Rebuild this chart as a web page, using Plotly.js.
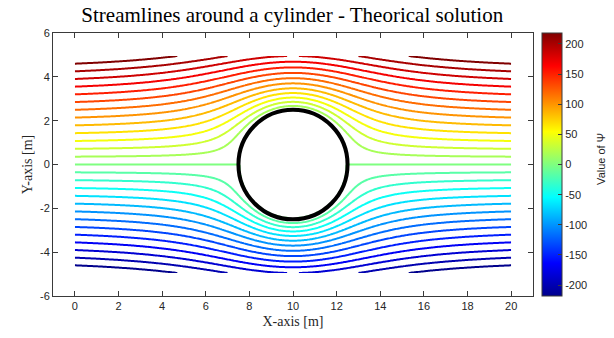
<!DOCTYPE html>
<html><head><meta charset="utf-8">
<script src="https://cdn.plot.ly/plotly-3.0.1.min.js"></script>
<style>html,body{margin:0;padding:0;background:#fff}#chart{width:614px;height:338px}</style>
</head><body><div id="chart"></div>
<script>
// Values
const cylinderCenter = [10, 0];
const cylinderRadius = 2.5;
const freeStreamVelocity = 46.4;     // chosen so that max(psi) on the grid ~ 218 (colorbar limit)
const xDomain = [0, 20];
const yDomain = [-4.95, 4.95];
const xCount = 401;
const yCount = 166;
const levelCount = 27;               // 13 above, zero line, 13 below
const levelStep = 15.57;
const colorRange = [-218, 218];
const xTickVals = [0, 2, 4, 6, 8, 10, 12, 14, 16, 18, 20];
const yTickVals = [-6, -4, -2, 0, 2, 4, 6];
const cbTickVals = [-200, -150, -100, -50, 0, 50, 100, 150, 200];
const titleText = 'Streamlines around a cylinder - Theorical solution';
const xTitle = 'X-axis [m]';
const yTitle = 'Y-axis [m]';
const cbTitle = 'Value of \u03A8';

// Theoretical stream function of potential flow past a cylinder (the chart's own definition)
const xs = [], ys = [];
for (let i = 0; i < xCount; i++) xs.push(xDomain[0] + i * (xDomain[1] - xDomain[0]) / (xCount - 1));
for (let j = 0; j < yCount; j++) ys.push(yDomain[0] + j * (yDomain[1] - yDomain[0]) / (yCount - 1));
const psi = ys.map(y => xs.map(x => {
  const dx = x - cylinderCenter[0], dy = y - cylinderCenter[1];
  const r2 = dx * dx + dy * dy;
  const R2 = cylinderRadius * cylinderRadius;
  return r2 < R2 ? 0 : freeStreamVelocity * dy * (1 - R2 / r2);
}));

const jet = [[0, 'rgb(0,0,140)'], [0.125, 'rgb(0,0,255)'], [0.375, 'rgb(0,255,255)'],
             [0.625, 'rgb(255,255,0)'], [0.875, 'rgb(255,0,0)'], [1, 'rgb(128,0,0)']];
const half = (levelCount - 1) / 2;
const axisColor = '#3a3a3a';
const tickFont = {family: 'Liberation Sans, Arial, sans-serif', size: 11, color: '#262626'};
const serif = 'Liberation Serif, Times New Roman, serif';

const traces = [
  {
    type: 'contour', x: xs, y: ys, z: psi,
    zmin: colorRange[0], zmax: colorRange[1], zauto: false,
    autocontour: false,
    contours: {start: -half * levelStep, end: half * levelStep + 1e-6, size: levelStep, coloring: 'lines'},
    line: {width: 2, smoothing: 0},
    colorscale: jet, showscale: false, hoverinfo: 'skip'
  },
  {
    type: 'scatter', x: [null], y: [null], mode: 'markers', hoverinfo: 'skip', showlegend: false,
    marker: {color: [0], cmin: colorRange[0], cmax: colorRange[1], colorscale: jet, showscale: true,
      colorbar: {x: 1.019, xanchor: 'left', xpad: 0, ypad: 0, y: 0.5, yanchor: 'middle', len: 1, lenmode: 'fraction',
        thickness: 20, thicknessmode: 'pixels', outlinewidth: 1, outlinecolor: axisColor,
        ticks: 'inside', ticklen: 4, tickcolor: axisColor, tickvals: cbTickVals,
        ticktext: cbTickVals.map(String), tickfont: tickFont}}
  }
];

const layout = {
  width: 614, height: 338,
  margin: {l: 53, r: 81, t: 33, b: 42},
  paper_bgcolor: '#fff', plot_bgcolor: '#fff',
  showlegend: false,
  title: {text: titleText, font: {family: serif, size: 21, color: '#000'}, x: 0.476, xanchor: 'center', y: 0.977, yanchor: 'top', yref: 'container'},
  xaxis: {range: [-1, 21], tickvals: xTickVals, ticktext: xTickVals.map(String), ticks: 'inside', ticklen: 5, tickcolor: axisColor,
    showline: true, linecolor: axisColor, linewidth: 1, mirror: 'ticks', showgrid: false, zeroline: false,
    tickfont: tickFont, title: {text: xTitle, font: {family: serif, size: 14, color: '#262626'}, standoff: 4}},
  yaxis: {range: [-6, 6], tickvals: yTickVals, ticktext: yTickVals.map(String), ticks: 'inside', ticklen: 5, tickcolor: axisColor,
    showline: true, linecolor: axisColor, linewidth: 1, mirror: 'ticks', showgrid: false, zeroline: false,
    tickfont: tickFont, title: {text: yTitle, font: {family: serif, size: 14, color: '#262626'}, standoff: 4}},
  shapes: [{type: 'circle', xref: 'x', yref: 'y', layer: 'above',
    x0: cylinderCenter[0] - cylinderRadius, x1: cylinderCenter[0] + cylinderRadius,
    y0: cylinderCenter[1] - cylinderRadius, y1: cylinderCenter[1] + cylinderRadius,
    line: {color: '#000', width: 4}}],
  annotations: [{text: cbTitle, xref: 'paper', yref: 'paper', x: 1.143, y: 0.52, textangle: -90,
    showarrow: false, xanchor: 'center', yanchor: 'middle',
    font: {family: 'Liberation Sans, Arial, sans-serif', size: 11, color: '#262626'}}]
};

Plotly.newPlot('chart', traces, layout, {displayModeBar: false, staticPlot: true});
</script></body></html>
